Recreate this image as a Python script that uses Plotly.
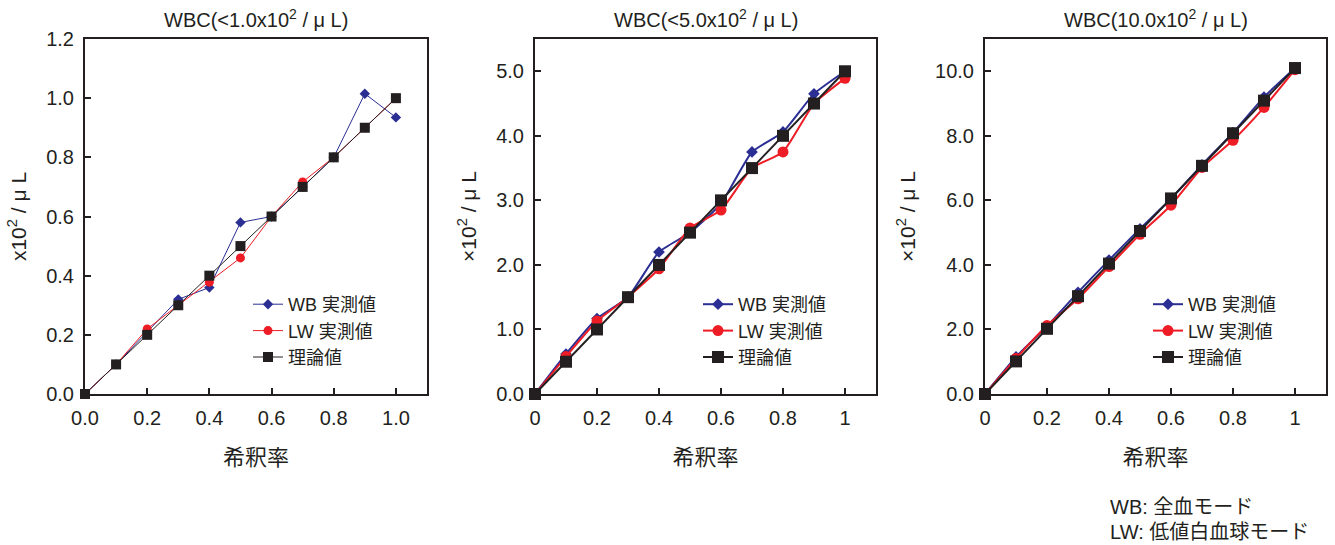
import plotly.graph_objects as go

# Dilution ratios shared by all three panels
dilution = [0.0, 0.1, 0.2, 0.3, 0.4, 0.5, 0.6, 0.7, 0.8, 0.9, 1.0]

# Panel 1: WBC < 1.0 x10^2/uL
p1_wb = [0.0, 0.10, 0.21, 0.32, 0.36, 0.58, 0.60, 0.70, 0.80, 1.015, 0.935]
p1_lw = [0.0, 0.10, 0.22, 0.30, 0.378, 0.46, 0.60, 0.717, 0.80, 0.90, 1.0]
p1_th = [0.0, 0.10, 0.20, 0.30, 0.40, 0.50, 0.60, 0.70, 0.80, 0.90, 1.0]

# Panel 2: WBC < 5.0 x10^2/uL
p2_wb = [0.0, 0.62, 1.17, 1.50, 2.20, 2.50, 2.95, 3.75, 4.06, 4.65, 5.0]
p2_lw = [0.0, 0.58, 1.13, 1.50, 1.94, 2.57, 2.85, 3.50, 3.75, 4.50, 4.89]
p2_th = [0.0, 0.50, 1.00, 1.50, 2.00, 2.50, 3.00, 3.50, 4.00, 4.50, 5.0]

# Panel 3: WBC 10.0 x10^2/uL
p3_wb = [0.0, 1.15, 2.10, 3.15, 4.15, 5.12, 6.05, 7.10, 8.10, 9.20, 10.10]
p3_lw = [0.0, 1.10, 2.12, 2.95, 3.95, 4.95, 5.85, 7.02, 7.86, 8.88, 10.05]
p3_th = [0.0, 1.01, 2.02, 3.03, 4.04, 5.05, 6.06, 7.07, 8.08, 9.09, 10.10]

titles = ["WBC(<1.0x10<sup>2</sup> / μ L)", "WBC(<5.0x10<sup>2</sup> / μ L)", "WBC(10.0x10<sup>2</sup> / μ L)"]
y_titles = ["x10<sup>2</sup> / μ L", "×10<sup>2</sup> / μ L", "×10<sup>2</sup> / μ L"]
x_title = "希釈率"
series_names = ["WB 実測値", "LW 実測値", "理論値"]

y_ranges = [[0, 1.2], [0, 5.5], [0, 11.0]]
y_ticks = [[0.0, 0.2, 0.4, 0.6, 0.8, 1.0, 1.2],
           [0, 1, 2, 3, 4, 5],
           [0, 2, 4, 6, 8, 10]]
x_ticks = [0.0, 0.2, 0.4, 0.6, 0.8, 1.0]
x_labels = [["0.0", "0.2", "0.4", "0.6", "0.8", "1.0"],
            ["0", "0.2", "0.4", "0.6", "0.8", "1"],
            ["0", "0.2", "0.4", "0.6", "0.8", "1"]]

note_lines = ["WB: 全血モード", "LW: 低値白血球モード"]

BLUE = "#2b2e93"
RED = "#ee1c25"
BLACK = "#231f20"
FONT = "Liberation Sans, Noto Sans CJK JP, sans-serif"

W, H = 1335, 545
panels_px = [(85, 427), (535, 876), (985, 1326)]
top_px, bottom_px = 39, 394

panel_data = [(p1_wb, p1_lw, p1_th), (p2_wb, p2_lw, p2_th), (p3_wb, p3_lw, p3_th)]

fig = go.Figure()
annotations = []

for i, ((wb, lw, th), (x0, x1)) in enumerate(zip(panel_data, panels_px)):
    n = "" if i == 0 else str(i + 1)
    xa, ya = "x" + n, "y" + n
    leg = "legend" + n
    thin = i == 0
    lw_w = 1 if thin else 2
    shape = "linear" if thin else "spline"
    sizes = (8, 9, 10) if thin else (9, 11, 12)
    fig.add_trace(go.Scatter(
        x=dilution, y=wb, name=series_names[0], mode="lines+markers",
        line=dict(color=BLUE, width=lw_w, shape=shape, smoothing=0.5),
        marker=dict(symbol="diamond", size=sizes[0], color=BLUE),
        xaxis=xa, yaxis=ya, legend=leg, cliponaxis=False))
    fig.add_trace(go.Scatter(
        x=dilution, y=lw, name=series_names[1], mode="lines+markers",
        line=dict(color=RED, width=lw_w, shape=shape, smoothing=0.5),
        marker=dict(symbol="circle", size=sizes[1], color=RED),
        xaxis=xa, yaxis=ya, legend=leg, cliponaxis=False))
    fig.add_trace(go.Scatter(
        x=dilution, y=th, name=series_names[2], mode="lines+markers",
        line=dict(color=BLACK, width=lw_w),
        marker=dict(symbol="square", size=sizes[2], color=BLACK),
        xaxis=xa, yaxis=ya, legend=leg, cliponaxis=False))

    axis_common = dict(showline=True, linecolor=BLACK, linewidth=2, mirror=True,
                       ticks="inside", ticklen=6, tickwidth=1.5, tickcolor=BLACK,
                       showgrid=False, zeroline=False, automargin=False,
                       ticklabelstandoff=5,
                       tickfont=dict(family=FONT, size=20, color=BLACK))
    fig.layout["xaxis" + n] = dict(
        domain=[x0 / W, x1 / W], anchor=ya, range=[0, 1.1],
        tickvals=x_ticks, ticktext=x_labels[i],
        title=dict(text=x_title, font=dict(family=FONT, size=22, color=BLACK), standoff=22),
        **axis_common)
    fig.layout["yaxis" + n] = dict(
        domain=[1 - bottom_px / H, 1 - top_px / H], anchor=xa, range=y_ranges[i],
        tickvals=y_ticks[i], tickformat=".1f",
        title=dict(text=y_titles[i], font=dict(family=FONT, size=21, color=BLACK), standoff=14),
        **axis_common)
    fig.layout[leg] = dict(
        x=(x0 + 163) / W, y=1 - 286 / H, xanchor="left", yanchor="top",
        bgcolor="rgba(0,0,0,0)", font=dict(family=FONT, size=18, color=BLACK),
        tracegroupgap=0, itemwidth=30)
    annotations.append(dict(
        text=titles[i], x=(x0 + x1) / 2 / W, y=1 - 18 / H, xref="paper", yref="paper",
        showarrow=False, xanchor="center", yanchor="middle",
        font=dict(family=FONT, size=20, color=BLACK)))

for k, line in enumerate(note_lines):
    annotations.append(dict(
        text=line, x=1108 / W, y=1 - (507 + 25 * k) / H, xref="paper", yref="paper",
        showarrow=False, xanchor="left", yanchor="middle",
        font=dict(family=FONT, size=20, color=BLACK)))

fig.update_layout(
    width=W, height=H, margin=dict(l=0, r=0, t=0, b=0),
    paper_bgcolor="white", plot_bgcolor="white",
    showlegend=True, annotations=annotations,
)

fig.write_html("out.html")
